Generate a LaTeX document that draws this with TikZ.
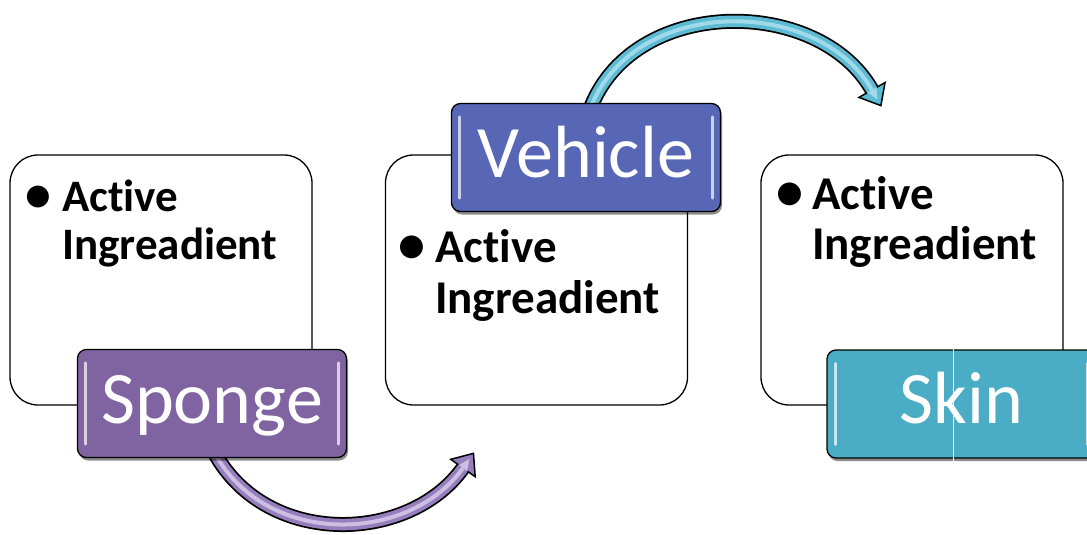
\documentclass[tikz,border=0pt]{standalone}
\usepackage{fontspec}
\setmainfont[Ligatures=NoCommon]{Carlito}
\usetikzlibrary{shadows,calc,decorations.markings}

\definecolor{spongepurple}{RGB}{128,100,162}
\definecolor{vehicleblue}{RGB}{88,102,182}
\definecolor{skinaqua}{RGB}{75,172,198}
\definecolor{arrowlilac}{RGB}{150,126,188}
\definecolor{arrowlilaclight}{RGB}{205,190,228}
\definecolor{arrowaqua}{RGB}{92,186,210}
\definecolor{arrowaqualight}{RGB}{160,218,234}

\tikzset{
  card/.style={draw=black, line width=1.3pt, fill=white, rounded corners=28pt,
    minimum width=302pt, minimum height=250pt, inner sep=0pt},
  tag/.style={draw=black, line width=1.3pt, fill=#1, rounded corners=9pt,
    minimum width=269pt, minimum height=108pt, inner sep=0pt, text=white,
    font=\fontsize{74}{80}\selectfont, text height=48pt, text depth=9pt,
    drop shadow={shadow xshift=1.5pt, shadow yshift=-3pt, opacity=0.45, fill=black}},
  bullets/.style={anchor=base west, inner sep=0pt},
  shaftout/.style={line width=15pt, draw=black},
  shaftin/.style={line width=11.5pt, draw=#1},
  headtip/.style 2 args={postaction={decorate}, decoration={markings,
      mark=at position 0.9999 with {
        \fill[#1] (0,-15) -- (18,0) -- (0,15) -- cycle;
        \fill[#2] (0,-5) -- (11,0) -- (0,5) -- cycle;
        \draw[black, line width=1.5pt, line join=miter]
          (0,5.75) -- (0,15) -- (18,0) -- (0,-15) -- (0,-5.75);}}},
}

% glossy strips along the inner left and right edges of a tag
\newcommand\glossstrips[2]{%
  \draw[#2!30!white, line width=3pt, line cap=round]
    ($(#1.north west)+(9,14)$) -- ($(#1.south west)+(9,-14)$);
  \draw[#2!30!white, line width=3pt, line cap=round]
    ($(#1.north east)+(-9,14)$) -- ($(#1.south east)+(-9,-14)$);}

% bullet paragraph: first argument = twice the distance from bullet centre to text
\newcommand\bulletpar[2]{\parbox[t]{290pt}{\raggedright
  \leavevmode\llap{\makebox[#1][c]{\scalebox{1.15}{•}}}#2}}

\begin{document}
\begin{tikzpicture}[x=1pt,y=-1pt]
  \clip (0,0) rectangle (1087,535);
  \fill[white] (0,0) rectangle (1087,535);

  % the three content cards
  \node[card] (card1) at (161,280) {};
  \node[card] (card2) at (536.5,280) {};
  \node[card] (card3) at (912,280) {};

  \node[bullets, font=\bfseries\fontsize{45}{48}\selectfont] (text1) at (62,211)
    {\bulletpar{48pt}{Active\\Ingreadient}};
  \node[bullets, font=\bfseries\fontsize{47}{51}\selectfont] (text2) at (435,262)
    {\bulletpar{46pt}{Active\\Ingreadient}};
  \node[bullets, font=\bfseries\fontsize{47}{50}\selectfont] (text3) at (812,209)
    {\bulletpar{44pt}{Active\\Ingreadient}};

  % curved arrows, drawn before the tags so their tails are hidden
  \coordinate (a1start) at (212,448);
  \coordinate (a1end) at (463,468);
  \draw[shaftout] (a1start) .. controls (262,548) and (408,545) .. (a1end);
  \draw[shaftin=arrowlilac] (a1start) .. controls (262,548) and (408,545) .. (a1end);
  \draw[line width=4pt, arrowlilaclight, headtip={arrowlilac}{arrowlilaclight}]
    (a1start) .. controls (262,548) and (408,545) .. (a1end);

  \coordinate (a2start) at (589,112);
  \coordinate (a2end) at (872,90);
  \draw[shaftout] (a2start) .. controls (630,-5) and (818,-5) .. (a2end);
  \draw[shaftin=arrowaqua] (a2start) .. controls (630,-5) and (818,-5) .. (a2end);
  \draw[line width=4pt, arrowaqualight, headtip={arrowaqua}{arrowaqualight}]
    (a2start) .. controls (630,-5) and (818,-5) .. (a2end);

  % coloured tags
  \node[tag=spongepurple] (sponge) at (212,403.5) {Sponge};
  \glossstrips{sponge}{spongepurple}
  \node[tag=vehicleblue] (vehicle) at (586,157.5) {Vehicle};
  \glossstrips{vehicle}{vehicleblue}
  \node[tag=skinaqua] (skin) at (961.5,404) {Skin};
  \glossstrips{skin}{skinaqua}

  % thin seam across the Skin tag
  \coordinate (seamtop) at (953,345);
  \coordinate (seambot) at (953,468);
  \draw[white, line width=0.9pt] (seamtop) -- (seambot);
\end{tikzpicture}
\end{document}
